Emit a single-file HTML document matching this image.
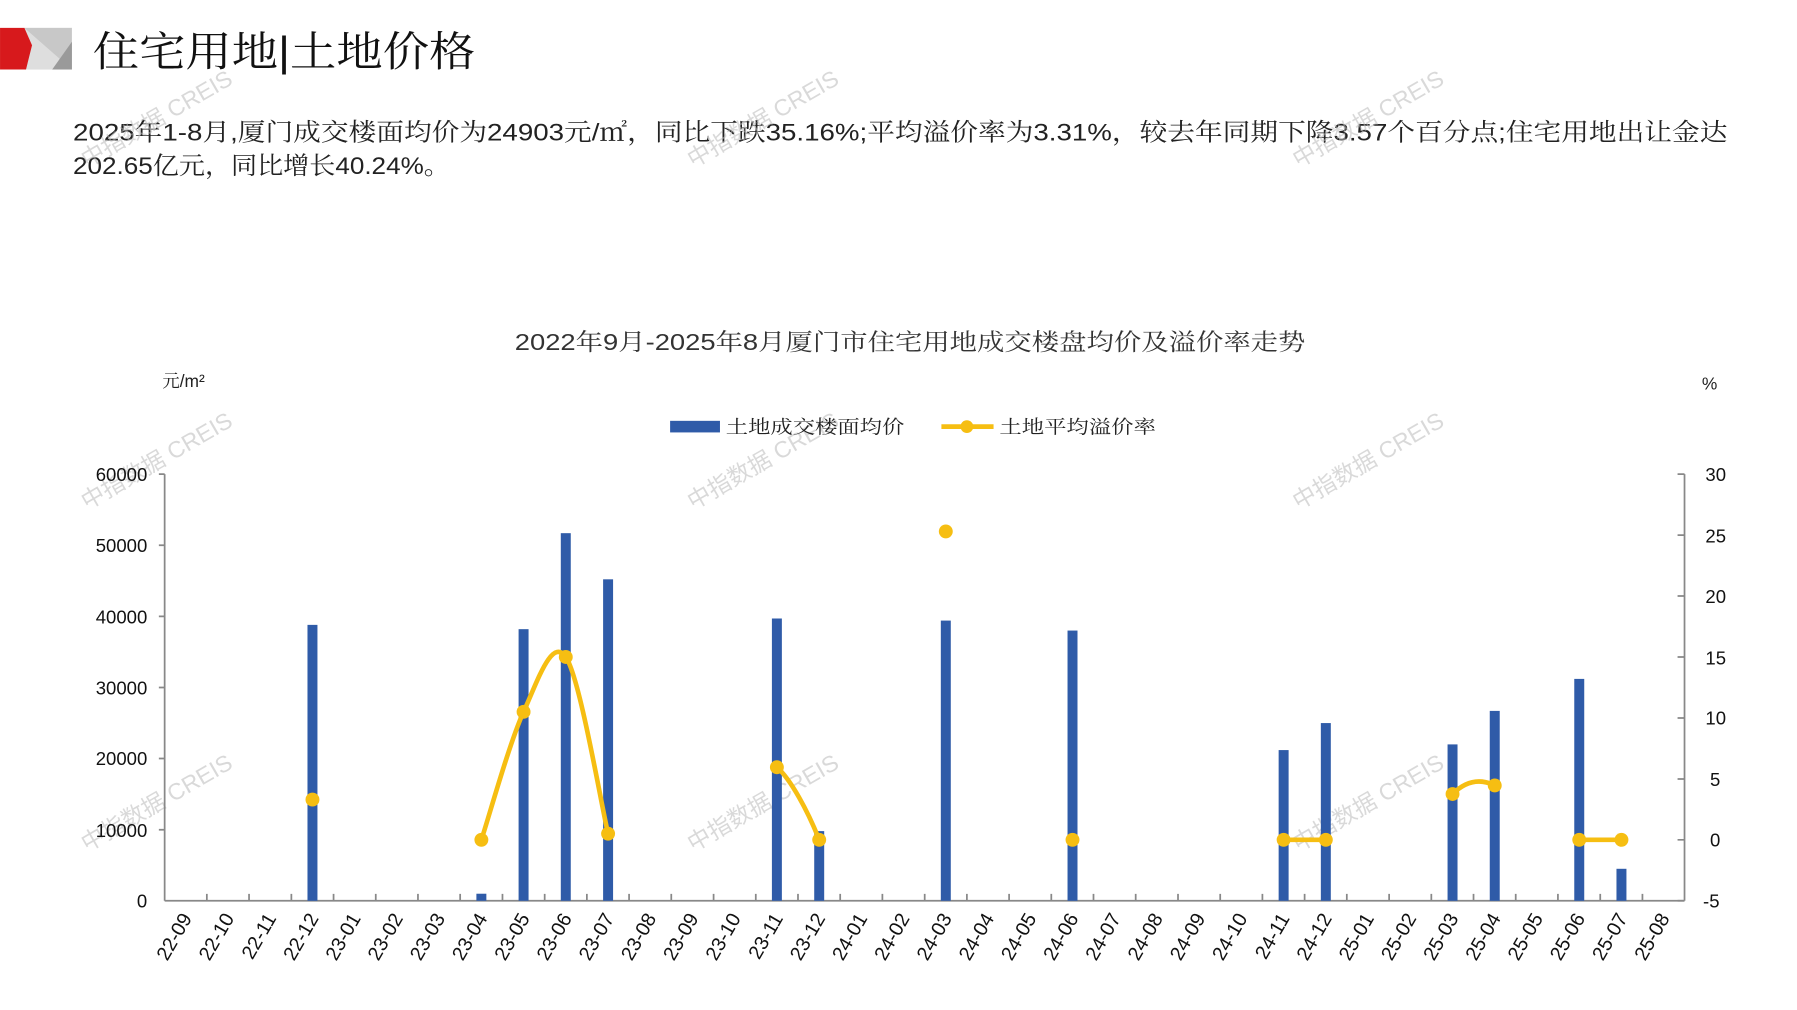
<!DOCTYPE html>
<html><head><meta charset="utf-8"><style>
html,body{margin:0;padding:0;background:#fff;}
svg{display:block;}
text{font-family:"Liberation Sans","Noto Sans CJK SC",sans-serif;}
.cj{font-family:"Liberation Sans","Noto Serif CJK SC",serif;}
</style></head><body>
<svg width="1797" height="1010" viewBox="0 0 1550 871.2" xmlns="http://www.w3.org/2000/svg">
<rect width="1550" height="872" fill="#fff"/>
<rect x="21" y="24" width="41" height="36" fill="#c8c8c8"/>
<polygon points="21,24 62,60 21,60" fill="#dedede"/>
<polygon points="62,36 62,60 45,60" fill="#9a9a9a"/>
<polygon points="0,24 21,24 27.6,39 22.4,60 0,60" fill="#d7191c"/>
<text x="80" y="57" font-size="36" class="cj" fill="#111" textLength="330" lengthAdjust="spacingAndGlyphs">住宅用地|土地价格</text>
<text x="63" y="121" font-size="21" class="cj" fill="#222" textLength="1427" lengthAdjust="spacingAndGlyphs">2025年1-8月,厦门成交楼面均价为24903元/㎡，同比下跌35.16%;平均溢价率为3.31%，较去年同期下降3.57个百分点;住宅用地出让金达</text>
<text x="63" y="150" font-size="21" class="cj" fill="#222" textLength="325" lengthAdjust="spacingAndGlyphs">202.65亿元，同比增长40.24%。</text>
<g fill="#bbb" opacity="0.55" font-size="20">
<text transform="translate(75,145) rotate(-30)">中指数据 CREIS</text>
<text transform="translate(598,145) rotate(-30)">中指数据 CREIS</text>
<text transform="translate(1120,145) rotate(-30)">中指数据 CREIS</text>
<text transform="translate(75,440) rotate(-30)">中指数据 CREIS</text>
<text transform="translate(598,440) rotate(-30)">中指数据 CREIS</text>
<text transform="translate(1120,440) rotate(-30)">中指数据 CREIS</text>
<text transform="translate(75,735) rotate(-30)">中指数据 CREIS</text>
<text transform="translate(598,735) rotate(-30)">中指数据 CREIS</text>
<text transform="translate(1120,735) rotate(-30)">中指数据 CREIS</text>
</g>
<text x="785" y="302" font-size="20" text-anchor="middle" class="cj" fill="#333" textLength="682" lengthAdjust="spacingAndGlyphs">2022年9月-2025年8月厦门市住宅用地成交楼盘均价及溢价率走势</text>
<text x="140" y="334" font-size="15" class="cj" fill="#222">元/m²</text>
<text x="1468" y="336" font-size="15" fill="#222">%</text>
<rect x="578" y="363" width="43" height="10" fill="#2f5ba8"/>
<text x="626" y="374" font-size="16" class="cj" fill="#222" textLength="154" lengthAdjust="spacingAndGlyphs">土地成交楼面均价</text>
<line x1="812" y1="368" x2="857" y2="368" stroke="#f6be12" stroke-width="4"/>
<circle cx="834" cy="368" r="5.5" fill="#f6be12"/>
<text x="862" y="374" font-size="16" class="cj" fill="#222" textLength="135" lengthAdjust="spacingAndGlyphs">土地平均溢价率</text>
<g stroke="#888" stroke-width="1.5" fill="none">
<line x1="142" y1="409" x2="142" y2="777"/>
<line x1="142" y1="777" x2="1453" y2="777"/>
<line x1="1453" y1="409" x2="1453" y2="777"/>
<path d="M137,409H142M137,470.3H142M137,531.7H142M137,593H142M137,654.3H142M137,715.7H142"/>
<path d="M1447,409H1453M1447,461.6H1453M1447,514.1H1453M1447,566.7H1453M1447,619.3H1453M1447,671.9H1453M1447,724.4H1453M1447,777H1453"/>
<path d="M178.4,777v-6M214.8,777v-6M251.3,777v-6M287.7,777v-6M324.1,777v-6M360.5,777v-6M396.9,777v-6M433.4,777v-6M469.8,777v-6M506.2,777v-6M542.6,777v-6M579.0,777v-6M615.5,777v-6M651.9,777v-6M688.3,777v-6M724.7,777v-6M761.1,777v-6M797.6,777v-6M834.0,777v-6M870.4,777v-6M906.8,777v-6M943.2,777v-6M979.6,777v-6M1016.1,777v-6M1052.5,777v-6M1088.9,777v-6M1125.3,777v-6M1161.7,777v-6M1198.2,777v-6M1234.6,777v-6M1271.0,777v-6M1307.4,777v-6M1343.8,777v-6M1380.3,777v-6M1416.7,777v-6"/>
</g>
<g font-size="16" fill="#111" text-anchor="end">
<text x="127" y="415">60000</text><text x="127" y="476">50000</text><text x="127" y="538">40000</text>
<text x="127" y="599">30000</text><text x="127" y="660">20000</text><text x="127" y="722">10000</text><text x="127" y="783">0</text>
</g>
<g font-size="16" fill="#111">
<text x="1471" y="415">30</text><text x="1471" y="468">25</text><text x="1471" y="520">20</text>
<text x="1471" y="573">15</text><text x="1471" y="625">10</text><text x="1475" y="678">5</text>
<text x="1475" y="730">0</text><text x="1469" y="783">-5</text>
</g>
<g fill="#2f5ba8">
<rect x="265.2" y="539" width="8.6" height="238"/>
<rect x="410.9" y="770.9" width="8.6" height="6.1"/>
<rect x="447.3" y="542.7" width="8.6" height="234.3"/>
<rect x="483.7" y="459.9" width="8.6" height="317.1"/>
<rect x="520.2" y="499.7" width="8.6" height="277.3"/>
<rect x="665.8" y="533.5" width="8.6" height="243.5"/>
<rect x="702.3" y="716.9" width="8.6" height="60.1"/>
<rect x="811.5" y="535.3" width="8.6" height="241.7"/>
<rect x="920.8" y="543.9" width="8.6" height="233.1"/>
<rect x="1102.9" y="647" width="8.6" height="130"/>
<rect x="1139.3" y="623.7" width="8.6" height="153.3"/>
<rect x="1248.6" y="642.1" width="8.6" height="134.9"/>
<rect x="1285" y="613.2" width="8.6" height="163.8"/>
<rect x="1357.9" y="585.6" width="8.6" height="191.4"/>
<rect x="1394.3" y="749.4" width="8.6" height="27.6"/>
</g>
<g stroke="#f6be12" stroke-width="4" fill="none" stroke-linecap="round">
<path d="M415.2,724.4 C421.3,706 439.5,640.3 451.6,614 C463.7,587.7 475.9,549.2 488,566.7 C500.2,584.2 518.4,693.7 524.5,719.1"/>
<path d="M670.1,661.8 C682,672 697,700 706.6,724.4"/>
<path d="M1107.2,724.4 L1143.6,724.4"/>
<path d="M1252.9,684.9 Q1270,668 1289.3,677.5"/>
<path d="M1362.2,724.4 L1398.6,724.4"/>
</g>
<g fill="#f6be12">
<circle cx="269.5" cy="689.7" r="6"/>
<circle cx="415.2" cy="724.4" r="6"/><circle cx="451.6" cy="614" r="6"/><circle cx="488" cy="566.7" r="6"/><circle cx="524.5" cy="719.1" r="6"/>
<circle cx="670.1" cy="661.8" r="6"/><circle cx="706.6" cy="724.4" r="6"/>
<circle cx="815.8" cy="458.4" r="6"/><circle cx="925.1" cy="724.4" r="6"/>
<circle cx="1107.2" cy="724.4" r="6"/><circle cx="1143.6" cy="724.4" r="6"/>
<circle cx="1252.9" cy="684.9" r="6"/><circle cx="1289.3" cy="677.5" r="6"/>
<circle cx="1362.2" cy="724.4" r="6"/><circle cx="1398.6" cy="724.4" r="6"/>
</g>
<g font-size="17" fill="#111" text-anchor="end">
<text transform="translate(166,792) rotate(-60)">22-09</text>
<text transform="translate(202.4,792) rotate(-60)">22-10</text>
<text transform="translate(238.8,792) rotate(-60)">22-11</text>
<text transform="translate(275.3,792) rotate(-60)">22-12</text>
<text transform="translate(311.7,792) rotate(-60)">23-01</text>
<text transform="translate(348.1,792) rotate(-60)">23-02</text>
<text transform="translate(384.5,792) rotate(-60)">23-03</text>
<text transform="translate(420.9,792) rotate(-60)">23-04</text>
<text transform="translate(457.4,792) rotate(-60)">23-05</text>
<text transform="translate(493.8,792) rotate(-60)">23-06</text>
<text transform="translate(530.2,792) rotate(-60)">23-07</text>
<text transform="translate(566.6,792) rotate(-60)">23-08</text>
<text transform="translate(603,792) rotate(-60)">23-09</text>
<text transform="translate(639.5,792) rotate(-60)">23-10</text>
<text transform="translate(675.9,792) rotate(-60)">23-11</text>
<text transform="translate(712.3,792) rotate(-60)">23-12</text>
<text transform="translate(748.7,792) rotate(-60)">24-01</text>
<text transform="translate(785.1,792) rotate(-60)">24-02</text>
<text transform="translate(821.6,792) rotate(-60)">24-03</text>
<text transform="translate(858,792) rotate(-60)">24-04</text>
<text transform="translate(894.4,792) rotate(-60)">24-05</text>
<text transform="translate(930.8,792) rotate(-60)">24-06</text>
<text transform="translate(967.2,792) rotate(-60)">24-07</text>
<text transform="translate(1003.6,792) rotate(-60)">24-08</text>
<text transform="translate(1040.1,792) rotate(-60)">24-09</text>
<text transform="translate(1076.5,792) rotate(-60)">24-10</text>
<text transform="translate(1112.9,792) rotate(-60)">24-11</text>
<text transform="translate(1149.3,792) rotate(-60)">24-12</text>
<text transform="translate(1185.7,792) rotate(-60)">25-01</text>
<text transform="translate(1222.2,792) rotate(-60)">25-02</text>
<text transform="translate(1258.6,792) rotate(-60)">25-03</text>
<text transform="translate(1295,792) rotate(-60)">25-04</text>
<text transform="translate(1331.4,792) rotate(-60)">25-05</text>
<text transform="translate(1367.8,792) rotate(-60)">25-06</text>
<text transform="translate(1404.3,792) rotate(-60)">25-07</text>
<text transform="translate(1440.7,792) rotate(-60)">25-08</text>
</g>
</svg>
</body></html>
